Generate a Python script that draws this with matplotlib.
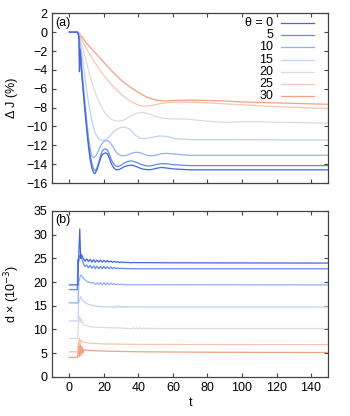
import matplotlib
matplotlib.use('Agg')
import matplotlib.pyplot as plt

# legend labels and colours (theta in degrees)
thetas = ['θ = 0', '5', '10', '15', '20', '25', '30']
colors = ['#4266dc', '#628aee', '#93b1f5', '#bfd2f6', '#dcdcdc', '#f6c6b2', '#f2a283']

# panel (a): Delta J (%) vs t
ta0 = [0, 4.8, 5.5, 5.8, 6.2, 7, 8, 9, 10, 11, 12, 13, 14, 14.8, 16, 17, 18, 19, 20, 21, 22, 23, 24, 25, 26, 27, 28,
       29, 30, 32, 34, 36, 38, 40, 42, 44, 46, 48, 50, 53, 56, 60, 65, 70, 80, 100, 150]
dJ0 = [0, 0, -0.5, -4.2, -2.0, -4.2, -6.3, -8.4, -10.3, -12.1, -13.5, -14.4, -14.9, -15.0, -14.6, -14.0, -13.4, -13.0,
       -12.85, -12.8, -12.9, -13.3, -13.8, -14.2, -14.45, -14.6, -14.6, -14.55, -14.45, -14.25, -14.15, -14.1, -14.2,
       -14.35, -14.5, -14.55, -14.6, -14.55, -14.45, -14.35, -14.4, -14.5, -14.55, -14.6, -14.6, -14.6, -14.6]

ta5 = [0, 4.8, 5.5, 5.9, 6.3, 7, 8, 9, 10, 11, 12, 13, 14, 15, 16, 17, 18, 19, 20, 21, 22, 23, 24, 25, 26, 27, 28, 29,
       30, 32, 34, 36, 38, 40, 42, 44, 46, 48, 50, 53, 56, 60, 65, 70, 80, 100, 150]
dJ5 = [0, 0, -0.4, -3.0, -1.8, -3.9, -6.0, -8.0, -9.9, -11.6, -13.0, -13.9, -14.5, -14.7, -14.4, -13.8, -13.1, -12.6,
       -12.4, -12.4, -12.5, -12.9, -13.4, -13.8, -14.05, -14.2, -14.25, -14.2, -14.1, -13.85, -13.7, -13.65, -13.75,
       -13.9, -14.05, -14.15, -14.2, -14.15, -14.05, -13.95, -13.95, -14.05, -14.1, -14.15, -14.15, -14.15, -14.15]

ta10 = [0, 4.8, 5.5, 6, 7, 8, 9, 10, 11, 12, 13, 13.8, 15, 16, 17, 18, 19, 20, 21, 22, 23, 24, 25, 26, 27, 28, 30, 32,
        34, 36, 38, 40, 42, 44, 46, 48, 50, 53, 56, 60, 65, 70, 80, 100, 150]
dJ10 = [0, 0, -0.4, -1.2, -3.2, -5.4, -7.4, -9.3, -11.0, -12.3, -13.1, -13.3, -13.2, -12.9, -12.5, -12.1, -11.8, -11.6,
        -11.5, -11.5, -11.6, -11.8, -12.1, -12.4, -12.7, -12.9, -13.1, -13.1, -13.0, -12.85, -12.75, -12.75, -12.85,
        -13.0, -13.1, -13.1, -13.05, -12.9, -12.85, -12.9, -13.0, -13.05, -13.05, -13.05, -13.05]

ta15 = [0, 4.8, 5.5, 7, 9, 11, 13, 15, 17, 19, 21, 23, 26, 29, 32, 35, 38, 41, 44, 48, 52, 56, 62, 70, 80, 100, 150]
dJ15 = [0, 0, -0.3, -2.0, -4.8, -7.4, -9.4, -10.7, -11.3, -11.5, -11.4, -11.1, -10.5, -10.15, -10.05, -10.3, -10.9,
        -11.25, -11.3, -11.15, -11.0, -11.05, -11.3, -11.4, -11.4, -11.4, -11.45]

ta20 = [0, 4.8, 5.5, 6, 8, 10, 12, 14, 16, 18, 20, 22, 25, 28, 31, 35, 39, 42, 46, 50, 55, 60, 65, 70, 80, 90, 100,
        110, 120, 135, 150]
dJ20 = [0, 0, -0.2, -0.6, -1.9, -3.3, -4.7, -5.9, -6.9, -7.7, -8.4, -8.9, -9.3, -9.45, -9.35, -8.95, -8.6, -8.5,
        -8.65, -8.95, -9.15, -9.2, -9.2, -9.25, -9.45, -9.55, -9.5, -9.5, -9.55, -9.6, -9.65]

ta25 = [0, 4.8, 5.5, 6, 6.5, 8, 10, 15, 20, 25, 30, 35, 40, 43, 47, 52, 58, 65, 75, 85, 100, 120, 150]
dJ25 = [0, 0, -0.4, -0.2, -0.6, -1.1, -1.8, -3.3, -4.6, -5.7, -6.6, -7.3, -7.75, -7.85, -7.8, -7.6, -7.45, -7.4,
        -7.45, -7.55, -7.7, -7.9, -8.1]

ta30 = [0, 4.8, 5.5, 6, 6.5, 7, 10, 15, 20, 25, 30, 35, 40, 45, 50, 55, 60, 70, 80, 90, 100, 120, 150]
dJ30 = [0, 0, -0.5, -0.1, -0.7, -0.4, -1.2, -2.2, -3.2, -4.2, -5.1, -5.8, -6.4, -6.9, -7.2, -7.3, -7.25, -7.2, -7.25,
        -7.3, -7.4, -7.5, -7.65]

# panel (b): d x 10^3 vs t
tb0 = [0, 5.0, 5.2, 6.0, 6.5, 7.0, 7.5, 8, 9, 10, 11, 12, 13, 14, 15, 16, 17, 18, 19, 20, 21, 22, 23, 24, 25, 26, 27,
       28, 29, 30, 31, 32, 33, 34, 35, 36, 40, 60, 150]
d0 = [19.4, 19.4, 24.0, 31.2, 25.0, 25.8, 25.4, 25.0, 24.4, 24.9, 24.3, 24.8, 24.2, 24.7, 24.2, 24.65, 24.2, 24.65,
      24.2, 24.6, 24.2, 24.55, 24.2, 24.45, 24.15, 24.4, 24.15, 24.3, 24.1, 24.25, 24.1, 24.2, 24.1, 24.15, 24.05,
      24.1, 24.1, 24.05, 24.0]

tb5 = [0, 4.6, 4.8, 5.2, 6.0, 7, 8, 9, 10, 11, 12, 13, 14, 15, 16, 17, 18, 19, 20, 21, 22, 23, 24, 25, 26, 27, 28, 29,
       30, 31, 32, 33, 34, 36, 150]
d5 = [18.4, 18.4, 24.7, 24.0, 25.6, 25.2, 24.0, 23.3, 23.6, 23.0, 23.5, 22.9, 23.4, 22.85, 23.35, 22.8, 23.35, 22.8,
      23.3, 22.8, 23.25, 22.8, 23.2, 22.8, 23.1, 22.8, 23.0, 22.8, 22.95, 22.8, 22.9, 22.8, 22.85, 22.8, 22.8]

tb10 = [0, 5.0, 5.4, 6.5, 7.5, 8.5, 10, 11, 12, 13, 14, 15, 16, 17, 18, 19, 20, 21, 22, 23, 24, 25, 26, 27, 28, 29, 30,
        32, 150]
d10 = [15.6, 15.6, 20.0, 21.5, 21.2, 20.6, 20.2, 20.0, 19.9, 19.75, 19.9, 19.5, 19.85, 19.45, 19.9, 19.4, 19.9, 19.4,
       19.85, 19.4, 19.8, 19.45, 19.7, 19.45, 19.6, 19.45, 19.55, 19.45, 19.4]

tb15 = [0, 5.0, 5.3, 6.5, 7.5, 9, 11, 13, 15, 17, 20, 25, 26, 27, 28, 29, 30, 31, 32, 33, 34, 35, 36, 37, 38, 39, 40,
        41, 42, 43, 44, 45, 46, 48, 150]
d15 = [11.8, 11.8, 15.5, 16.9, 16.2, 15.7, 15.3, 15.1, 14.95, 14.85, 14.8, 14.75, 14.6, 14.95, 14.6, 14.95, 14.6,
       14.9, 14.6, 14.9, 14.6, 14.85, 14.65, 14.85, 14.65, 14.8, 14.65, 14.8, 14.7, 14.8, 14.7, 14.75, 14.7, 14.75,
       14.75]

tb20 = [0, 4.8, 5.2, 6.0, 6.5, 7.0, 8, 10, 12, 15, 20, 30, 36, 37, 38, 39, 40, 41, 42, 43, 44, 45, 46, 47, 48, 49, 50,
        52, 60, 150]
d20 = [8.1, 8.1, 11.0, 12.8, 11.5, 12.2, 11.0, 10.8, 10.6, 10.5, 10.4, 10.3, 10.15, 10.35, 10.1, 10.35, 10.1, 10.35,
       10.1, 10.3, 10.15, 10.3, 10.15, 10.25, 10.15, 10.25, 10.2, 10.2, 10.2, 10.2]

tb25 = [0, 4.8, 5.2, 5.8, 6.3, 6.8, 7.5, 9, 12, 20, 40, 150]
d25 = [5.3, 5.3, 7.0, 8.2, 6.8, 7.8, 7.3, 7.3, 7.1, 6.95, 6.85, 6.8]

tb30 = [0, 4.8, 5.3, 5.8, 6.3, 6.8, 7.3, 7.8, 8.5, 10, 15, 25, 40, 80, 150]
d30 = [4.1, 4.1, 7.3, 4.3, 7.0, 4.5, 6.4, 5.0, 5.8, 5.6, 5.5, 5.4, 5.3, 5.2, 5.15]

xticks = [0, 20, 40, 60, 80, 100, 120, 140]

plt.rcParams['font.family'] = ['Liberation Sans', 'DejaVu Sans']
plt.rcParams['font.size'] = 9

fig = plt.figure(figsize=(3.5, 4.16), dpi=100)
ax1 = fig.add_axes([0.149, 0.560, 0.789, 0.408])
ax2 = fig.add_axes([0.149, 0.094, 0.789, 0.399])

series_a = [(ta0, dJ0), (ta5, dJ5), (ta10, dJ10), (ta15, dJ15), (ta20, dJ20), (ta25, dJ25), (ta30, dJ30)]
series_b = [(tb0, d0), (tb5, d5), (tb10, d10), (tb15, d15), (tb20, d20), (tb25, d25), (tb30, d30)]

# draw light curves first so blue ones sit on top
for i in reversed(range(7)):
    ax1.plot(series_a[i][0], series_a[i][1], color=colors[i], lw=0.9)
    ax2.plot(series_b[i][0], series_b[i][1], color=colors[i], lw=0.9)

for ax in (ax1, ax2):
    ax.set_xlim(-10, 150)
    ax.set_xticks(xticks)
    ax.tick_params(direction='in', top=True, right=True, length=3, width=0.8, color='#444444')
    for s in ax.spines.values():
        s.set_color('#444444')
        s.set_linewidth(0.9)

ax1.set_ylim(-16, 2)
ax1.set_yticks(range(-16, 3, 2))
ax1.tick_params(labelbottom=False)
ax1.set_ylabel('Δ J (%)', labelpad=6)
ax1.text(0.012, 0.94, '(a)', transform=ax1.transAxes, ha='left', va='center')

ax2.set_ylim(0, 35)
ax2.set_yticks(range(0, 36, 5))
ax2.set_ylabel('d × (10$^{-3}$)', labelpad=8)
ax2.set_xlabel('t', labelpad=2)
ax2.text(0.012, 0.946, '(b)', transform=ax2.transAxes, ha='left', va='center')

# gnuplot-like legend: right aligned labels, sample line on the right
for i, lab in enumerate(thetas):
    y = 0.941 - i * 0.0712
    ax1.text(0.80, y, lab, transform=ax1.transAxes, ha='right', va='center')
    ax1.plot([0.83, 0.949], [y, y], transform=ax1.transAxes, color=colors[i], lw=0.9)

fig.savefig('out.png', dpi=100)
